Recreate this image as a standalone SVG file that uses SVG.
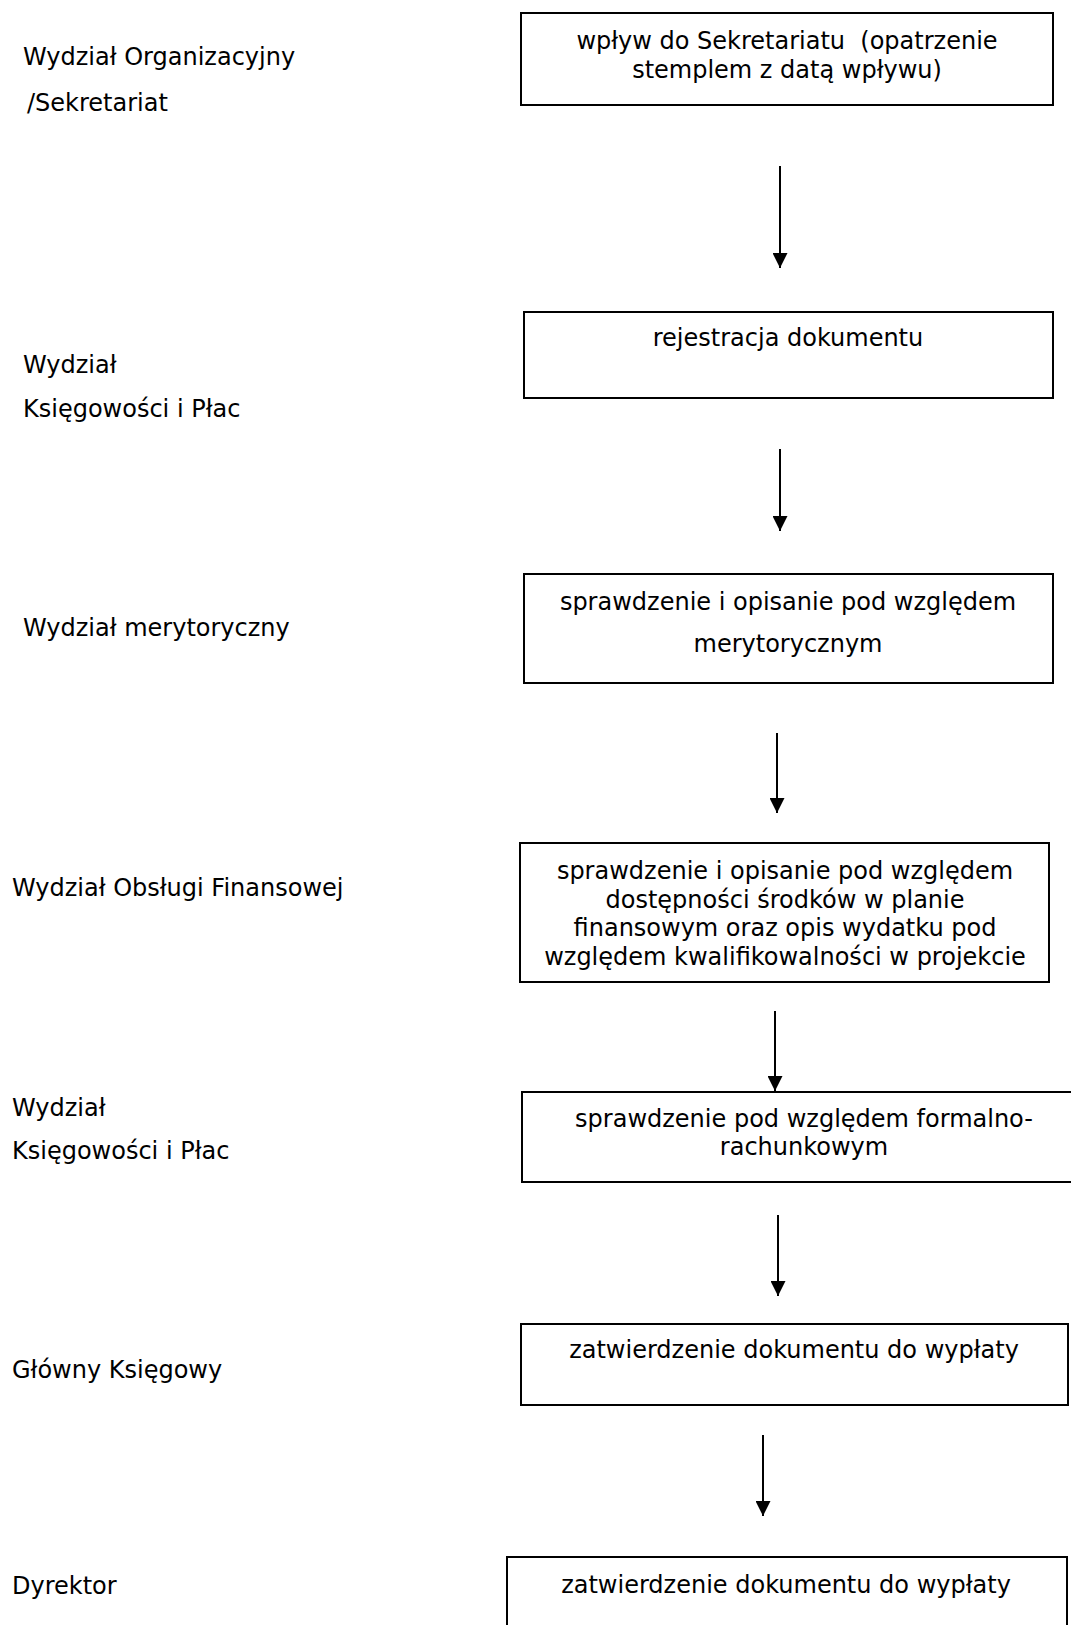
<svg xmlns="http://www.w3.org/2000/svg" width="1071" height="1625" viewBox="0 0 1071 1625">
<style>
text{font-family:"DejaVu Sans","Verdana",sans-serif;font-size:24px;fill:#000}
.c{text-anchor:middle}
.pre{white-space:pre}
.box{fill:#fff;stroke:#000;stroke-width:2}
.conn{stroke:#000;stroke-width:2;fill:none}
</style>
<defs>
<marker id="ah" viewBox="0 0 10 10" refX="10" refY="5" markerWidth="15" markerHeight="15" markerUnits="userSpaceOnUse" orient="auto">
<path d="M0,0 L10,5 L0,10 z" fill="#000"/>
</marker>
</defs>
<rect width="1071" height="1625" fill="#fff"/>
<g id="lanes">
<text x="23" y="65">Wydział Organizacyjny</text>
<text x="27" y="111">/Sekretariat</text>
<text x="23" y="373">Wydział</text>
<text x="23" y="417">Księgowości i Płac</text>
<text x="23" y="636">Wydział merytoryczny</text>
<text x="12" y="896">Wydział Obsługi Finansowej</text>
<text x="12" y="1116">Wydział</text>
<text x="12" y="1159">Księgowości i Płac</text>
<text x="12" y="1378">Główny Księgowy</text>
<text x="12" y="1594">Dyrektor</text>
</g>
<g id="n1">
<rect class="box" x="521" y="13" width="532" height="92"/>
<text class="c pre" x="787" y="49" xml:space="preserve">wpływ do Sekretariatu  (opatrzenie</text>
<text class="c" x="787" y="78">stemplem z datą wpływu)</text>
</g>
<g id="n2">
<rect class="box" x="524" y="312" width="529" height="86"/>
<text class="c" x="788" y="346">rejestracja dokumentu</text>
</g>
<g id="n3">
<rect class="box" x="524" y="574" width="529" height="109"/>
<text class="c" x="788" y="610">sprawdzenie i opisanie pod względem</text>
<text class="c" x="788" y="652">merytorycznym</text>
</g>
<g id="n4">
<rect class="box" x="520" y="843" width="529" height="139"/>
<text class="c" x="785" y="879">sprawdzenie i opisanie pod względem</text>
<text class="c" x="785" y="907.5">dostępności środków w planie</text>
<text class="c" x="785" y="936">finansowym oraz opis wydatku pod</text>
<text class="c" x="785" y="964.5">względem kwalifikowalności w projekcie</text>
</g>
<g id="n5">
<rect class="box" x="522" y="1092" width="560" height="90"/>
<text class="c" x="804" y="1127">sprawdzenie pod względem formalno-</text>
<text class="c" x="804" y="1155">rachunkowym</text>
</g>
<g id="n6">
<rect class="box" x="521" y="1324" width="547" height="81"/>
<text class="c" x="794" y="1358">zatwierdzenie dokumentu do wypłaty</text>
</g>
<g id="n7">
<rect class="box" x="507" y="1557" width="560" height="100"/>
<text class="c" x="786" y="1593">zatwierdzenie dokumentu do wypłaty</text>
</g>
<g id="connectors">
<line class="conn" x1="780" y1="166" x2="780" y2="268" marker-end="url(#ah)"/>
<line class="conn" x1="780" y1="449" x2="780" y2="531" marker-end="url(#ah)"/>
<line class="conn" x1="777" y1="733" x2="777" y2="813" marker-end="url(#ah)"/>
<line class="conn" x1="775" y1="1011" x2="775" y2="1091" marker-end="url(#ah)"/>
<line class="conn" x1="778" y1="1215" x2="778" y2="1296" marker-end="url(#ah)"/>
<line class="conn" x1="763" y1="1435" x2="763" y2="1516" marker-end="url(#ah)"/>
</g>
</svg>
